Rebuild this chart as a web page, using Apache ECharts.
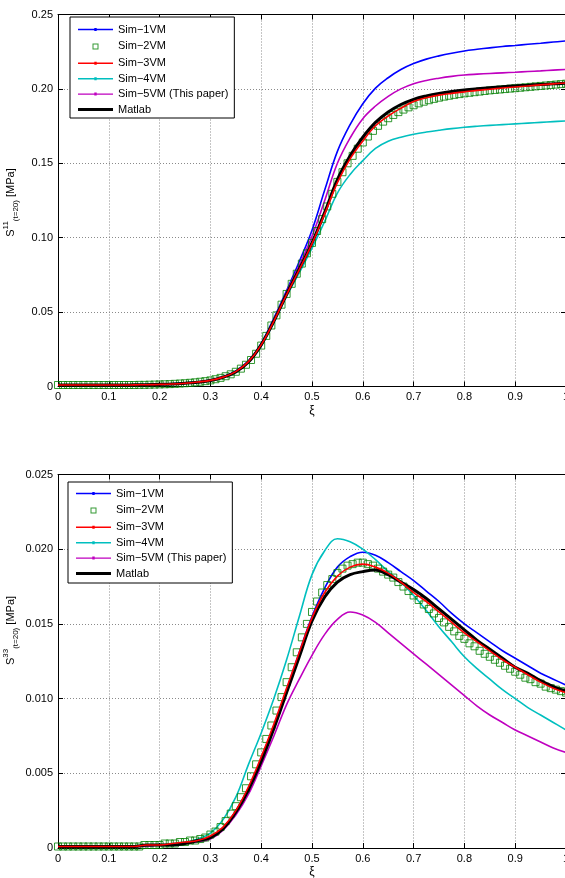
<!DOCTYPE html>
<html>
<head>
<meta charset="utf-8">
<title>S11 / S33 profiles at t=20</title>
<script src="https://cdn.jsdelivr.net/npm/echarts@6/dist/echarts.min.js"></script>
<style>
  html, body { margin: 0; padding: 0; background: #fff; }
  #chart { width: 565px; height: 878px; }
</style>
</head>
<body>
<div id="chart"></div>
<script>
// Sample positions along xi for the line curves and for the square markers
const xiLine = [0, 0.025, 0.05, 0.075, 0.1, 0.125, 0.15, 0.175, 0.2, 0.225, 0.25, 0.275, 0.3, 0.325, 0.35, 0.375, 0.4, 0.425, 0.45, 0.475, 0.5, 0.525, 0.55, 0.575, 0.6, 0.625, 0.65, 0.675, 0.7, 0.725, 0.75, 0.775, 0.8, 0.825, 0.85, 0.875, 0.9, 0.925, 0.95, 0.975, 1];
const xiMarks = [0, 0.01, 0.02, 0.03, 0.04, 0.05, 0.06, 0.07, 0.08, 0.09, 0.1, 0.11, 0.12, 0.13, 0.14, 0.15, 0.16, 0.17, 0.18, 0.19, 0.2, 0.21, 0.22, 0.23, 0.24, 0.25, 0.26, 0.27, 0.28, 0.29, 0.3, 0.31, 0.32, 0.33, 0.34, 0.35, 0.36, 0.37, 0.38, 0.39, 0.4, 0.41, 0.42, 0.43, 0.44, 0.45, 0.46, 0.47, 0.48, 0.49, 0.5, 0.51, 0.52, 0.53, 0.54, 0.55, 0.56, 0.57, 0.58, 0.59, 0.6, 0.61, 0.62, 0.63, 0.64, 0.65, 0.66, 0.67, 0.68, 0.69, 0.7, 0.71, 0.72, 0.73, 0.74, 0.75, 0.76, 0.77, 0.78, 0.79, 0.8, 0.81, 0.82, 0.83, 0.84, 0.85, 0.86, 0.87, 0.88, 0.89, 0.9, 0.91, 0.92, 0.93, 0.94, 0.95, 0.96, 0.97, 0.98, 0.99, 1];

const seriesNames = ['Sim\u22121VM', 'Sim\u22122VM', 'Sim\u22123VM', 'Sim\u22124VM', 'Sim\u22125VM (This paper)', 'Matlab'];

// S11 at t=20 [MPa]
const s11Sim1 = [0.0010, 0.0010, 0.0010, 0.0010, 0.0010, 0.0010, 0.0011, 0.0012, 0.0014, 0.0018, 0.0023, 0.0031, 0.0043, 0.0066, 0.0104, 0.0172, 0.0290, 0.0460, 0.0645, 0.0840, 0.1050, 0.1320, 0.1580, 0.1760, 0.1900, 0.2005, 0.2075, 0.2130, 0.2170, 0.2200, 0.2222, 0.2240, 0.2255, 0.2266, 0.2276, 0.2285, 0.2292, 0.2300, 0.2307, 0.2315, 0.2322];
const s11Sim2 = [0.0010, 0.0010, 0.0010, 0.0010, 0.0010, 0.0010, 0.0010, 0.0010, 0.0010, 0.0010, 0.0010, 0.0010, 0.0010, 0.0010, 0.0010, 0.0010,
  0.0011, 0.0011, 0.0012, 0.0013, 0.0014, 0.0015, 0.0016, 0.0018, 0.0020, 0.0022, 0.0025, 0.0028, 0.0032, 0.0036, 0.0041,
  0.0049, 0.0058, 0.0069, 0.0082, 0.0099, 0.0120, 0.0146, 0.0178, 0.0220, 0.0275,
  0.0340, 0.0410, 0.0478, 0.0550, 0.0622, 0.0690, 0.0758, 0.0826, 0.0895, 0.0965,
  0.1045, 0.1125, 0.1210, 0.1295, 0.1375, 0.1440, 0.1500, 0.1550, 0.1598, 0.1640,
  0.1680, 0.1718, 0.1752, 0.1780, 0.1803, 0.1825, 0.1844, 0.1861, 0.1876, 0.1890,
  0.1903, 0.1914, 0.1924, 0.1933, 0.1941, 0.1948, 0.1954, 0.1960, 0.1965, 0.1970,
  0.1974, 0.1978, 0.1982, 0.1986, 0.1990, 0.1993, 0.1996, 0.1999, 0.2002, 0.2005,
  0.2008, 0.2011, 0.2014, 0.2017, 0.2020, 0.2023, 0.2026, 0.2029, 0.2032, 0.2035];
const s11Sim3 = [0.0010, 0.0010, 0.0010, 0.0010, 0.0010, 0.0010, 0.0011, 0.0012, 0.0014, 0.0017, 0.0022, 0.0030, 0.0041, 0.0063, 0.0100, 0.0167, 0.0280, 0.0440, 0.0618, 0.0785, 0.0960, 0.1160, 0.1370, 0.1530, 0.1650, 0.1752, 0.1818, 0.1870, 0.1915, 0.1940, 0.1958, 0.1970, 0.1980, 0.1990, 0.1998, 0.2006, 0.2013, 0.2020, 0.2027, 0.2034, 0.2040];
const s11Sim4 = [0.0010, 0.0010, 0.0010, 0.0010, 0.0010, 0.0010, 0.0011, 0.0012, 0.0014, 0.0017, 0.0022, 0.0029, 0.0040, 0.0062, 0.0098, 0.0163, 0.0272, 0.0430, 0.0605, 0.0765, 0.0930, 0.1110, 0.1300, 0.1425, 0.1518, 0.1600, 0.1648, 0.1675, 0.1695, 0.1710, 0.1722, 0.1733, 0.1742, 0.1749, 0.1755, 0.1760, 0.1765, 0.1770, 0.1775, 0.1780, 0.1785];
const s11Sim5 = [0.0010, 0.0010, 0.0010, 0.0010, 0.0010, 0.0010, 0.0011, 0.0012, 0.0014, 0.0017, 0.0022, 0.0030, 0.0041, 0.0064, 0.0101, 0.0168, 0.0283, 0.0450, 0.0635, 0.0815, 0.1010, 0.1250, 0.1500, 0.1670, 0.1800, 0.1885, 0.1950, 0.2000, 0.2035, 0.2057, 0.2072, 0.2084, 0.2093, 0.2099, 0.2104, 0.2108, 0.2112, 0.2117, 0.2121, 0.2126, 0.2131];
const s11Matlab = [0.0010, 0.0010, 0.0010, 0.0010, 0.0010, 0.0010, 0.0011, 0.0012, 0.0014, 0.0017, 0.0022, 0.0029, 0.0040, 0.0062, 0.0098, 0.0165, 0.0280, 0.0440, 0.0620, 0.0790, 0.0965, 0.1170, 0.1390, 0.1550, 0.1675, 0.1775, 0.1845, 0.1895, 0.1930, 0.1953, 0.1970, 0.1983, 0.1993, 0.2001, 0.2008, 0.2014, 0.2020, 0.2025, 0.2030, 0.2034, 0.2038];

// S33 at t=20 [MPa]
const s33Sim1 = [0.0001, 0.0001, 0.0001, 0.0001, 0.0001, 0.0001, 0.0001, 0.0002, 0.0002, 0.0002, 0.0003, 0.0005, 0.0007, 0.0013, 0.0024, 0.0040, 0.0060, 0.0082, 0.0106, 0.0131, 0.0155, 0.0174, 0.0188, 0.0195, 0.0198, 0.0196, 0.0191, 0.0185, 0.0179, 0.0172, 0.0165, 0.0157, 0.0150, 0.0144, 0.0138, 0.0132, 0.0127, 0.0122, 0.0117, 0.0113, 0.0109];
const s33Sim2 = [0.0001, 0.0001, 0.0001, 0.0001, 0.0001, 0.0001, 0.0001, 0.0001, 0.0001, 0.0001, 0.0001, 0.0001, 0.0001, 0.0001, 0.0001, 0.0001, 0.0001,
  0.0002, 0.0002, 0.0002, 0.0002, 0.0003, 0.0003, 0.0003, 0.0004, 0.0004, 0.0005, 0.0005, 0.0006, 0.0007, 0.0009,
  0.0011, 0.0014, 0.0018, 0.0023, 0.0028, 0.0034, 0.0040, 0.0048, 0.0056, 0.0064,
  0.0073, 0.0082, 0.0092, 0.0101, 0.0111, 0.0121, 0.0131, 0.0141, 0.0150, 0.0158,
  0.0165, 0.0171, 0.0176, 0.0180, 0.0184, 0.0187, 0.0189, 0.0190, 0.0191, 0.0191,
  0.0190, 0.0189, 0.0187, 0.0185, 0.0183, 0.0181, 0.0178, 0.0175, 0.0172, 0.0169,
  0.0166, 0.0163, 0.0160, 0.0157, 0.0154, 0.0151, 0.0148, 0.0145, 0.0142, 0.0140,
  0.0137, 0.0135, 0.0132, 0.0130, 0.0128, 0.0126, 0.0124, 0.0122, 0.0120, 0.0118,
  0.0116, 0.0114, 0.0113, 0.0111, 0.0110, 0.0108, 0.0107, 0.0106, 0.0105, 0.0104];
const s33Sim3 = [0.0001, 0.0001, 0.0001, 0.0001, 0.0001, 0.0001, 0.0001, 0.0002, 0.0002, 0.0003, 0.0004, 0.0005, 0.0008, 0.0014, 0.0025, 0.0041, 0.0061, 0.0083, 0.0107, 0.0131, 0.0154, 0.0171, 0.0182, 0.0188, 0.0190, 0.0188, 0.0184, 0.0178, 0.0171, 0.0165, 0.0158, 0.0151, 0.0144, 0.0138, 0.0132, 0.0126, 0.0121, 0.0116, 0.0111, 0.0107, 0.0104];
const s33Sim4 = [0.0001, 0.0001, 0.0001, 0.0001, 0.0001, 0.0001, 0.0001, 0.0002, 0.0002, 0.0003, 0.0004, 0.0006, 0.0010, 0.0019, 0.0034, 0.0056, 0.0077, 0.0100, 0.0126, 0.0155, 0.0183, 0.0199, 0.0207, 0.0205, 0.0200, 0.0193, 0.0185, 0.0178, 0.0169, 0.0159, 0.0148, 0.0138, 0.0128, 0.0120, 0.0113, 0.0106, 0.0100, 0.0094, 0.0089, 0.0084, 0.0079];
const s33Sim5 = [0.0001, 0.0001, 0.0001, 0.0001, 0.0001, 0.0001, 0.0001, 0.0001, 0.0002, 0.0002, 0.0003, 0.0004, 0.0006, 0.0012, 0.0022, 0.0036, 0.0055, 0.0075, 0.0096, 0.0113, 0.0129, 0.0143, 0.0153, 0.0158, 0.0156, 0.0151, 0.0144, 0.0137, 0.0130, 0.0123, 0.0116, 0.0109, 0.0102, 0.0095, 0.0089, 0.0084, 0.0079, 0.0075, 0.0071, 0.0067, 0.0064];
const s33Matlab = [0.0001, 0.0001, 0.0001, 0.0001, 0.0001, 0.0001, 0.0001, 0.0002, 0.0002, 0.0002, 0.0003, 0.0005, 0.0007, 0.0013, 0.0024, 0.0039, 0.0058, 0.0080, 0.0104, 0.0128, 0.0152, 0.0168, 0.0178, 0.0183, 0.0185, 0.0186, 0.0183, 0.0178, 0.0173, 0.0167, 0.0160, 0.0153, 0.0146, 0.0139, 0.0133, 0.0127, 0.0121, 0.0117, 0.0112, 0.0108, 0.0105];

// Axis tick values
const xTicks = [0, 0.1, 0.2, 0.3, 0.4, 0.5, 0.6, 0.7, 0.8, 0.9, 1];
const s11Ticks = [0, 0.05, 0.10, 0.15, 0.20, 0.25];
const s33Ticks = [0, 0.005, 0.010, 0.015, 0.020, 0.025];

const FONT = '"Liberation Sans", Arial, Helvetica, sans-serif';
const colors = { sim1: '#0000ff', sim2: '#008000', sim3: '#ff0000', sim4: '#00bfbf', sim5: '#bf00bf', matlab: '#000000' };

const pairs = (xs, ys) => xs.map((x, i) => [x, ys[i]]);

const grids = [
  { left: 58, top: 14.5, width: 508, height: 372, outerBoundsMode: 'none' },
  { left: 58, top: 474.5, width: 508, height: 373.5, outerBoundsMode: 'none' }
];

const gridLine = { show: true, lineStyle: { color: '#8a8a8a', width: 1, type: [1, 2] } };
const frameLine = { show: true, onZero: false, lineStyle: { color: '#000', width: 1 } };
const inTick = { show: true, inside: true, length: 5, lineStyle: { color: '#000', width: 1 } };

function xFmt(v) {
  if (v === 0) return '0';
  if (Math.abs(v - 1) < 1e-9) return '1';
  return v.toFixed(1);
}

function makeXAxes(gi) {
  return [
    {
      gridIndex: gi, type: 'value', position: 'bottom',
      min: xTicks[0], max: xTicks[xTicks.length - 1], interval: xTicks[1] - xTicks[0],
      axisLine: frameLine, axisTick: inTick, splitLine: gridLine,
      axisLabel: { color: '#000', fontSize: 11, fontFamily: FONT, margin: 5, formatter: xFmt },
      name: '\u03be', nameLocation: 'middle', nameGap: 18,
      nameTextStyle: { color: '#000', fontSize: 12, fontFamily: FONT }
    },
    {
      gridIndex: gi, type: 'value', position: 'top',
      min: xTicks[0], max: xTicks[xTicks.length - 1], interval: xTicks[1] - xTicks[0],
      axisLine: frameLine, axisTick: inTick, splitLine: { show: false }, axisLabel: { show: false }
    }
  ];
}

function makeYAxes(gi, ticks, digits) {
  const step = ticks[1] - ticks[0];
  return [
    {
      gridIndex: gi, type: 'value', position: 'left',
      min: ticks[0], max: ticks[ticks.length - 1], interval: step,
      axisLine: frameLine, axisTick: inTick, splitLine: gridLine,
      axisLabel: {
        color: '#000', fontSize: 11, fontFamily: FONT, margin: 5,
        formatter: v => (v === 0 ? '0' : v.toFixed(digits))
      }
    },
    {
      gridIndex: gi, type: 'value', position: 'right',
      min: ticks[0], max: ticks[ticks.length - 1], interval: step,
      axisLine: frameLine, axisTick: inTick, splitLine: { show: false }, axisLabel: { show: false }
    }
  ];
}

function lineSeries(name, data, color, width, axisIdx, z) {
  return {
    name, type: 'line', xAxisIndex: axisIdx, yAxisIndex: axisIdx,
    data: pairs(xiLine, data), showSymbol: false, symbol: 'none',
    smooth: 0.4, z,
    lineStyle: { color, width }, itemStyle: { color },
    emphasis: { disabled: true }
  };
}

function markSeries(name, data, axisIdx) {
  return {
    name, type: 'scatter', xAxisIndex: axisIdx, yAxisIndex: axisIdx,
    data: pairs(xiMarks, data), symbol: 'rect', symbolSize: 7, z: 2,
    itemStyle: { color: 'rgba(0,0,0,0)', borderColor: colors.sim2, borderWidth: 1 },
    emphasis: { disabled: true }
  };
}

function seriesFor(axisIdx, d) {
  return [
    lineSeries(seriesNames[0], d[0], colors.sim1, 1.6, axisIdx, 2),
    markSeries(seriesNames[1], d[1], axisIdx),
    lineSeries(seriesNames[3], d[3], colors.sim4, 1.6, axisIdx, 2),
    lineSeries(seriesNames[4], d[4], colors.sim5, 1.6, axisIdx, 2),
    lineSeries(seriesNames[5], d[5], colors.matlab, 3, axisIdx, 3),
    lineSeries(seriesNames[2], d[2], colors.sim3, 1.6, axisIdx, 4)
  ];
}

// Legend icons: thin line with a small dot, an open square, and a thick line
const iconLineDot = 'path://M0,6.3h35v1.4h-35z M16.3,5.5h2.4v3h-2.4z';
const iconSquare = 'path://M0,0h0.01v0.01h-0.01z M35,14h-0.01v-0.01h0.01z M14.5,4h6v6h-6z M15.5,5v4h4v-4z';
const iconThick = 'path://M0,5.5h35v3h-35z';

const legendData = [
  { name: seriesNames[0], icon: iconLineDot, itemStyle: { color: colors.sim1, borderWidth: 0 } },
  { name: seriesNames[1], icon: iconSquare, itemStyle: { color: colors.sim2, borderWidth: 0 } },
  { name: seriesNames[2], icon: iconLineDot, itemStyle: { color: colors.sim3, borderWidth: 0 } },
  { name: seriesNames[3], icon: iconLineDot, itemStyle: { color: colors.sim4, borderWidth: 0 } },
  { name: seriesNames[4], icon: iconLineDot, itemStyle: { color: colors.sim5, borderWidth: 0 } },
  { name: seriesNames[5], icon: iconThick, itemStyle: { color: colors.matlab, borderWidth: 0 } }
];

function legendAt(left, top, pad) {
  return {
    left, top, orient: 'vertical', selectedMode: false,
    itemWidth: 35, itemHeight: 14, itemGap: 4.4, padding: pad,
    borderColor: '#000', borderWidth: 1, backgroundColor: '#fff', z: 10,
    textStyle: { color: '#000', fontSize: 11, fontFamily: FONT },
    data: legendData
  };
}

const labelRich = {
  s: { fontSize: 11, fontFamily: FONT, color: '#000', lineHeight: 18, verticalAlign: 'middle' },
  sup: { fontSize: 8, fontFamily: FONT, color: '#000', lineHeight: 18, verticalAlign: 'top' },
  sub: { fontSize: 8, fontFamily: FONT, color: '#000', lineHeight: 18, verticalAlign: 'bottom' },
  n: { fontSize: 11, fontFamily: FONT, color: '#000', lineHeight: 18, verticalAlign: 'middle' }
};

function yName(text, x, y) {
  return {
    type: 'text', x, y, rotation: Math.PI / 2, z: 10,
    style: { text, rich: labelRich, align: 'center', verticalAlign: 'middle' }
  };
}

const chart = echarts.init(document.getElementById('chart'), null, { renderer: 'canvas' });
chart.setOption({
  animation: false,
  backgroundColor: '#fff',
  grid: grids,
  xAxis: [...makeXAxes(0), ...makeXAxes(1)],
  yAxis: [...makeYAxes(0, s11Ticks, 2), ...makeYAxes(1, s33Ticks, 3)],
  legend: [legendAt(70, 17, [7, 6, 3, 8]), legendAt(68, 482, [6, 6, 4, 8])],
  graphic: [
    yName('{s|S}{sup|11}{sub|(t=20)}{n| [MPa]}', 11, 202.5),
    yName('{s|S}{sup|33}{sub|(t=20)}{n| [MPa]}', 11, 630.5)
  ],
  series: [
    ...seriesFor(0, [s11Sim1, s11Sim2, s11Sim3, s11Sim4, s11Sim5, s11Matlab]),
    ...seriesFor(2, [s33Sim1, s33Sim2, s33Sim3, s33Sim4, s33Sim5, s33Matlab])
  ]
});
</script>
</body>
</html>
